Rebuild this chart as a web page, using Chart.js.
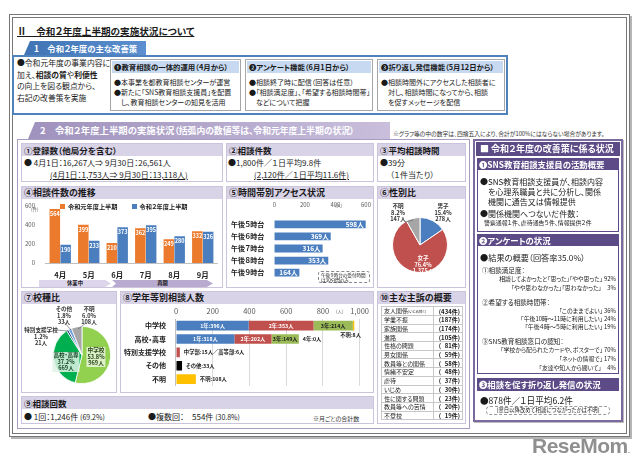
<!DOCTYPE html>
<html lang="ja">
<head>
<meta charset="utf-8">
<title>令和２年度上半期の実施状況について</title>
<script src="https://cdn.jsdelivr.net/npm/chart.js@4.4.1/dist/chart.umd.min.js"></script>
<style>
  body { margin:0; width:640px; height:468px; position:relative; overflow:hidden; background:#fff;
         font-family:"Noto Sans CJK JP","Noto Sans",sans-serif; color:#1a1a1a; font-feature-settings:"palt"; }
  .a { position:absolute; white-space:nowrap; }
  .pn { position:absolute; border:1px solid #cbc4dc; box-sizing:border-box; background:#fff; }
  .hd { position:absolute; left:0; top:0; right:0; height:12px; background:#d9d3e8; font-weight:bold;
        font-size:8.5px; line-height:12px; padding-left:2px; }
  .t8 { font-size:8px; line-height:12px; }
  .sb { position:absolute; border:1px solid #a6a6a6; box-sizing:border-box; background:#fff; }
  .sbh { position:absolute; left:1px; right:1px; top:1px; height:12px; background:#c6d9f1; font-weight:bold; font-size:7.4px; line-height:12px; padding-left:2px; }
  .sbt { position:absolute; left:3px; font-size:7px; line-height:10px; white-space:nowrap; }
  .rh { position:absolute; background:#5d4b87; color:#fff; font-weight:bold; white-space:nowrap; }
  .rl { position:absolute; white-space:nowrap; line-height:9px; }
  canvas { position:absolute; }
  table.cp { border-collapse:collapse; font-size:6px; }
  table.cp td { border:1px solid #c8c8c8; height:7.7px; line-height:7px; padding:0 2px; white-space:nowrap; }
</style>
</head>
<body>

<!-- outer frame -->
<div class="a" style="left:9px;top:14px;width:613px;height:415px;border:4px double #777;box-shadow:2px 2px 0 #b5b5b5"></div>

<div class="a" style="left:17px;top:24px;font-size:9.6px;font-weight:bold;text-decoration:underline">Ⅱ　令和２年度上半期の実施状況について</div>

<!-- section 1 -->
<div class="a" style="left:24px;top:41px;width:122px;height:14px;background:linear-gradient(90deg,#3f73b3,#5b8fd0);clip-path:polygon(6px 0,100% 0,100% 100%,0 100%);color:#fff;font-weight:bold;font-size:8.4px;line-height:14px;padding-left:10px;box-sizing:border-box">1　令和２年度の主な改善策</div>
<div class="a" style="left:12px;top:55px;width:496px;height:60px;border:2px solid #4f81bd;box-sizing:border-box"></div>
<div class="a" style="left:17px;top:57px;font-size:7.8px;line-height:11.7px">●令和元年度の事業内容に<br>加え、<b>相談の質</b>や<b>利便性</b><br>の向上を図る観点から、<br>右記の改善策を実施</div>

<div class="sb" style="left:110px;top:59px;width:131px;height:52px">
  <div class="sbh">❶教育相談の一体的運用（4月から）</div>
  <div class="sbt" style="top:17px">●本事業を都教育相談センターが運営<br>●新たに「SNS教育相談支援員」を配置<br>　し、教育相談センターの知見を活用</div>
</div>
<div class="sb" style="left:245px;top:59px;width:128px;height:52px">
  <div class="sbh">❷アンケート機能（6月1日から）</div>
  <div class="sbt" style="top:17px">●相談終了時に配信（回答は任意）<br>●「相談満足度」、「希望する相談時間帯」<br>　などについて把握</div>
</div>
<div class="sb" style="left:377px;top:59px;width:128px;height:52px">
  <div class="sbh">❸折り返し発信機能（5月12日から）</div>
  <div class="sbt" style="top:17px">●相談時間外にアクセスした相談者に<br>　対し、相談時間になってから、相談<br>　を促すメッセージを配信</div>
</div>

<!-- section 2 -->
<div class="a" style="left:28px;top:122px;width:362px;height:17px;background:linear-gradient(90deg,#9f92bd,#c9bfdc);clip-path:polygon(7px 0,100% 0,100% 100%,0 100%);color:#fff;font-weight:bold;font-size:9.4px;line-height:17px;padding-left:12px;box-sizing:border-box">2　令和２年度上半期の実施状況<span style="font-size:8.8px">（括弧内の数値等は、令和元年度上半期の状況）</span></div>
<div class="a" style="left:393px;top:129px;font-size:5.8px;color:#333">※グラフ等の中の数字は、四捨五入により、合計が100%にはならない場合があります。</div>
<div class="a" style="left:17px;top:139px;width:453px;height:290px;border:1.5px solid #a89cc3;box-sizing:border-box"></div>

<div class="pn" style="left:21px;top:143px;width:202px;height:39px"><div class="hd">①登録数（他局分を含む）</div></div>
<div class="a t8" style="left:24px;top:157px">● 4月1日：16,267人⇒ 9月30日：26,561人</div>
<div class="a t8" style="left:50px;top:169px;text-decoration:underline">(4月1日：1,753人⇒ 9月30日：13,118人)</div>

<div class="pn" style="left:226px;top:143px;width:148px;height:39px"><div class="hd">②相談件数</div></div>
<div class="a t8" style="left:228px;top:157px">●1,800件／１日平均9.8件</div>
<div class="a t8" style="left:254px;top:169px;text-decoration:underline">(2,120件／１日平均11.6件)</div>

<div class="pn" style="left:377px;top:143px;width:89px;height:39px"><div class="hd">③平均相談時間</div></div>
<div class="a t8" style="left:380px;top:157px">●39分</div>
<div class="a t8" style="left:390px;top:169px">（１件当たり）</div>

<div class="pn" style="left:21px;top:186px;width:202px;height:102px"><div class="hd" style="font-size:9px">④相談件数の推移</div></div>
<div class="pn" style="left:226px;top:186px;width:148px;height:102px"><div class="hd" style="font-size:9px">⑤時間帯別アクセス状況</div></div>
<div class="pn" style="left:377px;top:186px;width:89px;height:102px"><div class="hd" style="font-size:9px">⑥性別比</div></div>
<div class="pn" style="left:21px;top:291px;width:96px;height:102px"><div class="hd" style="font-size:9px">⑦校種比</div></div>
<div class="pn" style="left:120px;top:291px;width:254px;height:102px"><div class="hd" style="font-size:9px">⑧学年等別相談人数</div></div>
<div class="pn" style="left:21px;top:396px;width:353px;height:28px"><div class="hd">⑨相談回数</div></div>
<div class="pn" style="left:377px;top:291px;width:89px;height:133px"><div class="hd" style="font-size:9px">⑩主な主訴の概要</div></div>

<div class="a t8" style="left:24px;top:411px">● 1回：1,246件 <span style="font-size:7px">(69.2%)</span></div>
<div class="a t8" style="left:148px;top:411px">●複数回：　554件 <span style="font-size:7px">(30.8%)</span></div>
<div class="a" style="left:313px;top:414px;font-size:6px;color:#333">※月ごとの合計数</div>

<!-- ④ -->
<canvas id="c4" width="198" height="81" style="left:22px;top:199px"></canvas>
<div class="a" style="left:31px;top:206px;font-size:4.5px;color:#555">(件)</div>
<div id="lg4" class="a" style="left:60px;top:203px;font-size:6.2px;font-weight:bold;line-height:8px"></div>
<div class="a" style="left:39px;top:280px;width:72px;height:7px;background:#ddd6ea;clip-path:polygon(0 0,92% 0,100% 50%,92% 100%,0 100%);font-size:5.3px;font-weight:bold;line-height:7px;text-align:center">休業中</div>
<div class="a" style="left:112px;top:280px;width:101px;height:7px;background:#b9abd0;clip-path:polygon(0 0,94% 0,100% 50%,94% 100%,0 100%,4% 50%);font-size:5.3px;font-weight:bold;line-height:7px;text-align:center">再開</div>

<!-- ⑤ -->
<canvas id="c5" width="144" height="86" style="left:229px;top:199px"></canvas>
<div class="a" style="left:335px;top:202px;font-size:4.5px;color:#555">(人)</div>
<div class="a" style="left:318px;top:271px;width:52px;height:12px;border:1px dashed #888;border-radius:3px;box-sizing:border-box;font-size:4.6px;line-height:5px;padding:0.5px 2px;background:#fff">午後９時台の受付時間<br>は30分間のみ</div>

<!-- ⑥ -->
<canvas id="c6" width="56" height="56" style="left:392px;top:217px"></canvas>
<div id="lb6"></div>

<!-- ⑦ -->
<canvas id="c7" width="58" height="58" style="left:53px;top:326px"></canvas>
<div id="lb7"></div>
<svg class="a" style="left:0;top:0" width="640" height="468">
  <g stroke="#555" stroke-width="0.6" fill="none">
    <line x1="56" y1="330" x2="68" y2="331"/>
    <line x1="64" y1="322" x2="71" y2="330"/>
    <line x1="86" y1="323" x2="78" y2="329"/>
    <line x1="405" y1="222" x2="413" y2="220"/>
  </g>
</svg>

<!-- ⑧ -->
<canvas id="c8" width="250" height="88" style="left:122px;top:304px"></canvas>
<div class="a" style="left:336px;top:308px;font-size:4.5px;color:#555">(人)</div>

<!-- ⑩ -->
<table id="t10" class="cp a" style="left:381px;top:306px;width:82px"></table>

<!-- right panel -->
<div class="a" style="left:473px;top:139px;width:150px;height:283px;border:2px solid #7b6a9f;box-sizing:border-box;box-shadow:1px 1px 0 #bbb"></div>
<div class="rh" style="left:476px;top:142px;width:144px;height:14px;font-size:9px;line-height:14px;padding-left:4px;box-sizing:border-box">■ 令和２年度の改善策に係る状況</div>

<div class="a" style="left:477px;top:158px;width:142px;height:74px;border:1.5px solid #5d4b87;box-sizing:border-box"></div>
<div class="rh" style="left:477px;top:158px;width:142px;height:12px;font-size:8.4px;line-height:12px;padding-left:2px;box-sizing:border-box">❶SNS教育相談支援員の活動概要</div>
<div class="rl" style="left:480px;top:177px;font-size:8px">●SNS教育相談支援員が、相談内容</div>
<div class="rl" style="left:488px;top:187px;font-size:8px">を心理系職員と共に分析し、関係</div>
<div class="rl" style="left:488px;top:197px;font-size:8px">機関に通告又は情報提供</div>
<div class="rl" style="left:480px;top:209px;font-size:8px">●関係機関へつないだ件数：</div>
<div class="rl" style="left:484px;top:219px;font-size:5.9px;line-height:7px">警察通報１件、虐待通告５件、情報提供２件</div>

<div class="a" style="left:477px;top:234px;width:142px;height:140px;border:1.5px solid #5d4b87;box-sizing:border-box"></div>
<div class="rh" style="left:477px;top:234px;width:142px;height:12px;font-size:8.4px;line-height:12px;padding-left:2px;box-sizing:border-box">❷アンケートの状況</div>
<div class="rl" style="left:480px;top:252px;font-size:8.2px;line-height:10px">●結果の概要（回答率35.0%）</div>
<div class="rl" style="left:482px;top:266px;font-size:6.6px;line-height:8px">①相談満足度：</div>
<div class="rl" style="right:24px;top:275px;font-size:5.9px;line-height:8px">相談してよかったと「思った」「やや思った」 92%</div>
<div class="rl" style="right:24px;top:284px;font-size:5.9px;line-height:8px">「やや思わなかった」「思わなかった」　3%</div>
<div class="rl" style="left:482px;top:298px;font-size:6.6px;line-height:8px">②希望する相談時間帯：</div>
<div class="rl" style="right:24px;top:307px;font-size:5.9px;line-height:8px">「このままでよい」 36%</div>
<div class="rl" style="right:24px;top:315px;font-size:5.9px;line-height:8px">「午後10時～11時に利用したい」 24%</div>
<div class="rl" style="right:24px;top:323px;font-size:5.9px;line-height:8px">「午後４時～５時に利用したい」 19%</div>
<div class="rl" style="left:482px;top:337px;font-size:6.6px;line-height:8px">③SNS教育相談窓口の認知：</div>
<div class="rl" style="right:24px;top:346px;font-size:5.9px;line-height:8px">「学校から配られたカードや、ポスターで」 70%</div>
<div class="rl" style="right:24px;top:355px;font-size:5.9px;line-height:8px">「ネットの情報で」 17%</div>
<div class="rl" style="right:24px;top:364px;font-size:5.9px;line-height:8px">「友達や知人から聞いて」　4%</div>

<div class="rh" style="left:477px;top:378px;width:142px;height:13px;font-size:8.4px;line-height:13px;padding-left:2px;box-sizing:border-box">❸相談を促す折り返し発信の状況</div>
<div class="rl" style="left:480px;top:394px;font-size:8.6px;line-height:12px">●878件／１日平均6.2件</div>
<div class="a" style="left:486px;top:406px;width:124px;height:9px;border:1px dashed #999;border-radius:4px;box-sizing:border-box;font-size:5.4px;line-height:7px;text-align:center">(翌日以降改めて相談につながったかは不明)</div>

<div class="a" style="left:532px;top:434px;font-family:'Liberation Sans',Arial,sans-serif;font-weight:bold;font-size:21px;color:#8f8f8f;letter-spacing:-0.5px">ReseMom<span style="font-size:8px">.</span></div>

<script>
// ④ 相談件数の推移
const months = ['4月', '5月', '6月', '7月', '8月', '9月'];
const seriesNames = ['令和元年度上半期', '令和２年度上半期'];
const consultR1 = [564, 399, 210, 362, 249, 332];
const consultR2 = [190, 233, 373, 395, 280, 326];

// ⑤ 時間帯別アクセス状況
const hours = ['午後５時台', '午後６時台', '午後７時台', '午後８時台', '午後９時台'];
const access = [598, 369, 316, 353, 164];

// ⑥ 性別比
const genders = ['男子', '女子', '不明'];
const genderCount = [278, 1375, 147];
const genderPct = ['15.4', '76.4', '8.2'];

// ⑦ 校種比
const schools = ['中学校', '高校・高専', '特別支援学校', 'その他', '不明'];
const schoolCount = [969, 669, 21, 33, 108];
const schoolPct = ['53.8', '37.2', '1.2', '1.8', '6.0'];

// ⑧ 学年等別相談人数
const gradeRows = ['中学校', '高校・高専', '特別支援学校', 'その他', '不明'];
const gradeNames = ['1年', '2年', '3年'];
const grade1 = [396, 318, 0, 0, 0];
const grade2 = [353, 202, 0, 0, 0];
const grade3 = [214, 149, 0, 0, 0];
const gradeRest = [8, 0, 0, 0, 0];       // 中学校:不明 / 高校・高専:4年
const rowSingle = [0, 0, 21, 33, 108];   // 特別支援学校・その他・不明
const restLabels = ['不明:8人', '4年:0人', '中学部:15人／高等部:6人', 'その他:33人', '不明:108人'];

// ⑩ 主な主訴の概要
const complaints = ['友人関係', '学業不振', '家族関係', '進路', '性格の問題', '男女関係', '教員等との関係',
                    '情緒不安定', '虐待', 'いじめ', '性に関する問題', '教員等への苦情', '不登校'];
const complaintCount = [434, 187, 174, 105, 81, 59, 58, 48, 37, 30, 23, 20, 19];

const ORANGE = '#ec7a2c', BLUE = '#4a7ebf', RED = '#c0504d', GREEN = '#9bbb59', GOLD = '#ffc000';
const fmt = n => n.toLocaleString('en-US');

Chart.defaults.font.family = '"Noto Sans CJK JP", sans-serif';
Chart.defaults.animation = false;
Chart.defaults.plugins.legend.display = false;
Chart.defaults.plugins.tooltip.enabled = false;

// legend ④
document.getElementById('lg4').innerHTML = seriesNames.map((n, i) =>
  `<span style="display:inline-block;width:5px;height:5px;background:${i ? BLUE : ORANGE};margin-right:3px"></span>${n}`
).join('<span style="display:inline-block;width:14px"></span>');

new Chart(document.getElementById('c4'), {
  type: 'bar',
  data: {
    labels: months,
    datasets: [
      { label: seriesNames[0], data: consultR1, backgroundColor: ORANGE },
      { label: seriesNames[1], data: consultR2, backgroundColor: BLUE }
    ]
  },
  options: {
    responsive: false,
    layout: { padding: { right: 3, top: 1 } },
    datasets: { bar: { categoryPercentage: 0.76, barPercentage: 0.97 } },
    scales: {
      x: { grid: { display: false }, border: { color: '#bfbfbf' },
           ticks: { font: { size: 7.5, weight: 'bold' }, color: '#222', padding: 0 } },
      y: { min: 0, max: 600, grid: { display: false }, border: { display: false },
           ticks: { stepSize: 100, font: { size: 6 }, color: '#595959', padding: 3 } }
    }
  },
  plugins: [{
    id: 'lbl4',
    afterDatasetsDraw(chart) {
      const ctx = chart.ctx;
      ctx.save();
      ctx.font = 'bold 5.5px "Noto Sans CJK JP"';
      ctx.fillStyle = '#fff';
      ctx.textAlign = 'center';
      ctx.textBaseline = 'top';
      chart.data.datasets.forEach((ds, i) => {
        chart.getDatasetMeta(i).data.forEach((el, j) => ctx.fillText(ds.data[j], el.x, el.y + 2));
      });
      ctx.restore();
    }
  }]
});

new Chart(document.getElementById('c5'), {
  type: 'bar',
  data: { labels: hours, datasets: [{ data: access, backgroundColor: BLUE }] },
  options: {
    responsive: false,
    indexAxis: 'y',
    layout: { padding: { right: 7, bottom: 1 } },
    datasets: { bar: { categoryPercentage: 0.64, barPercentage: 1 } },
    scales: {
      x: { position: 'top', min: 0, max: 600, grid: { display: false }, border: { display: false },
           ticks: { stepSize: 200, font: { size: 6 }, color: '#595959', padding: 2 } },
      y: { grid: { display: false }, border: { display: false },
           ticks: { font: { size: 7, weight: 'bold' }, color: '#222', padding: 2 } }
    }
  },
  plugins: [{
    id: 'lbl5',
    afterDatasetsDraw(chart) {
      const ctx = chart.ctx;
      ctx.save();
      ctx.font = 'bold 6.5px "Noto Sans CJK JP"';
      ctx.fillStyle = '#fff';
      ctx.textAlign = 'right';
      ctx.textBaseline = 'middle';
      chart.getDatasetMeta(0).data.forEach((el, j) => ctx.fillText(access[j] + '人', el.x - 2, el.y));
      ctx.restore();
    }
  }]
});

const pieOpts = { responsive: false, rotation: 0, layout: { padding: 0 } };
new Chart(document.getElementById('c6'), {
  type: 'pie',
  data: { labels: genders, datasets: [{ data: genderCount, backgroundColor: [BLUE, RED, '#a6a6a6'], borderColor: '#fff', borderWidth: 1 }] },
  options: pieOpts
});
new Chart(document.getElementById('c7'), {
  type: 'pie',
  data: { labels: schools, datasets: [{ data: schoolCount, backgroundColor: ['#92d050', '#00b050', '#1f3f73', '#6fa0dc', '#a6a6a6'], borderColor: '#fff', borderWidth: 0.8 }] },
  options: pieOpts
});

// pie labels
const pieLabel = (x, y, lines, style) =>
  `<div class="a" style="left:${x}px;top:${y}px;transform:translateX(-50%);text-align:center;font-size:5.6px;font-weight:bold;line-height:6.6px;${style || ''}">${lines.join('<br>')}</div>`;
const gLab = i => [genders[i], genderPct[i] + '%', fmt(genderCount[i]) + '人'];
document.getElementById('lb6').innerHTML =
  pieLabel(398, 203, gLab(2), 'color:#333') +
  pieLabel(443, 203, gLab(0), 'color:#333') +
  pieLabel(423, 255, gLab(1), 'color:#fff');
const sLab = i => [schools[i], schoolPct[i] + '%', fmt(schoolCount[i]) + '人'];
document.getElementById('lb7').innerHTML =
  pieLabel(96, 347, sLab(0), 'color:#1d3d10;background:rgba(235,246,220,0.85);padding:0 1px') +
  pieLabel(66, 352, sLab(1), 'color:#0d3d1c;background:rgba(225,242,230,0.85);padding:0 1px') +
  pieLabel(41, 327, sLab(2), 'color:#333') +
  pieLabel(64, 306, sLab(3), 'color:#333') +
  pieLabel(89, 306, sLab(4), 'color:#333');

// ⑧
new Chart(document.getElementById('c8'), {
  type: 'bar',
  data: {
    labels: gradeRows,
    datasets: [
      { data: grade1, backgroundColor: BLUE },
      { data: grade2, backgroundColor: RED },
      { data: grade3, backgroundColor: GREEN },
      { data: gradeRest, backgroundColor: GOLD },
      { data: rowSingle, backgroundColor: ['#000', '#000', RED, '#000', GOLD] }
    ]
  },
  options: {
    responsive: false,
    indexAxis: 'y',
    layout: { padding: { right: 8, bottom: 1 } },
    datasets: { bar: { categoryPercentage: 0.72, barPercentage: 1 } },
    scales: {
      x: { stacked: true, position: 'top', min: 0, max: 1000, grid: { color: '#d9d9d9', drawTicks: false }, border: { display: false },
           ticks: { stepSize: 200, font: { size: 7.5 }, color: '#595959', padding: 3 } },
      y: { stacked: true, grid: { display: false }, border: { color: '#bfbfbf' },
           ticks: { font: { size: 7, weight: 'bold' }, color: '#222', padding: 2 } }
    }
  },
  plugins: [{
    id: 'lbl8',
    afterDatasetsDraw(chart) {
      const ctx = chart.ctx;
      ctx.save();
      ctx.font = 'bold 5.3px "Noto Sans CJK JP"';
      ctx.textBaseline = 'middle';
      ctx.textAlign = 'center';
      [grade1, grade2, grade3].forEach((arr, i) => {
        chart.getDatasetMeta(i).data.forEach((el, j) => {
          if (!arr[j]) return;
          const cx = (el.x + el.base) / 2;
          ctx.fillStyle = i === 2 ? '#1a1a1a' : '#fff';
          ctx.fillText(`${gradeNames[i]}:${arr[j]}人`, cx, el.y);
        });
      });
      ctx.fillStyle = '#1a1a1a';
      ctx.textAlign = 'left';
      const xs = chart.scales.x;
      restLabels.forEach((t, j) => {
        const total = grade1[j] + grade2[j] + grade3[j] + gradeRest[j] + rowSingle[j];
        const el = chart.getDatasetMeta(0).data[j];
        if (j === 0) ctx.fillText(t, xs.getPixelForValue(total) - 14, el.y + 9);
        else ctx.fillText(t, xs.getPixelForValue(total) + 4, el.y);
      });
      ctx.restore();
    }
  }]
});

// ⑩
document.getElementById('t10').innerHTML = complaints.map((c, i) => {
  const name = i === 0 ? c + '<span style="font-size:3.5px">(いじめ除く)</span>' : c;
  const n = String(complaintCount[i]).padStart(3, '\u2007');
  return `<tr><td>${name}</td><td style="text-align:right;font-weight:bold">(${n}件)</td></tr>`;
}).join('');
</script>
</body>
</html>
